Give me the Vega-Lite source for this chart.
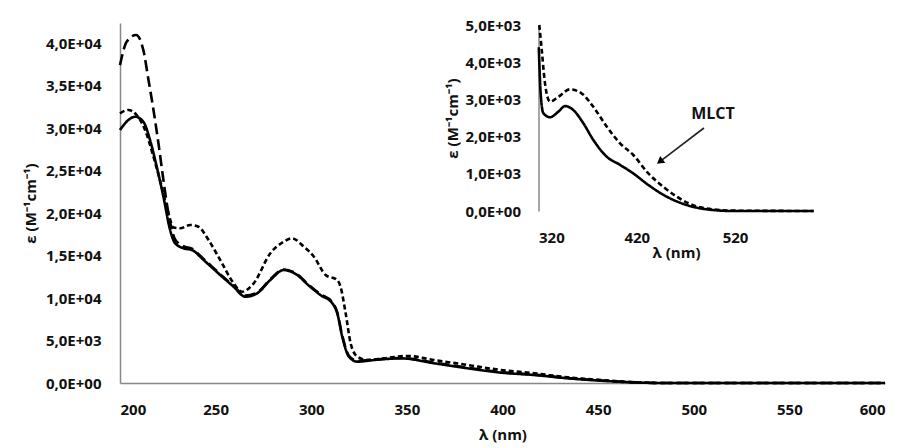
{
  "$schema": "https://vega.github.io/schema/vega-lite/v6.json",
  "width": 765,
  "height": 360,
  "autosize": "none",
  "padding": {"left": 120, "top": 23, "right": 15, "bottom": 65},
  "background": "white",
  "config": {
    "view": {"stroke": null},
    "font": "Open Sans",
    "axis": {
      "grid": false,
      "ticks": false,
      "domainColor": "#888888",
      "domainWidth": 1.5,
      "labelFont": "Open Sans",
      "labelFontWeight": "bold",
      "labelFontSize": 15,
      "labelColor": "#111111",
      "titleFont": "Open Sans",
      "titleFontWeight": "bold",
      "titleFontSize": 15,
      "titleColor": "#111111"
    }
  },
  "datasets": {
    "main": [
      {"s": "C", "nm": 200, "e": 29770}, {"s": "C", "nm": 204.4, "e": 30940}, {"s": "C", "nm": 207.9, "e": 31330}, {"s": "C", "nm": 212.2, "e": 30740}, {"s": "C", "nm": 215.7, "e": 28590}, {"s": "C", "nm": 219.2, "e": 25450}, {"s": "C", "nm": 222.7, "e": 21920}, {"s": "C", "nm": 226.2, "e": 18000}, {"s": "C", "nm": 228.8, "e": 16440}, {"s": "C", "nm": 233.2, "e": 15850}, {"s": "C", "nm": 237.6, "e": 15650}, {"s": "C", "nm": 243.7, "e": 14470}, {"s": "C", "nm": 252.4, "e": 12710}, {"s": "C", "nm": 259.4, "e": 11330}, {"s": "C", "nm": 265.5, "e": 10150}, {"s": "C", "nm": 271.7, "e": 10550}, {"s": "C", "nm": 278.6, "e": 12120}, {"s": "C", "nm": 285.6, "e": 13290}, {"s": "C", "nm": 292.6, "e": 12710}, {"s": "C", "nm": 298.5, "e": 11500}, {"s": "C", "nm": 304.8, "e": 10350}, {"s": "C", "nm": 311, "e": 9380}, {"s": "C", "nm": 313.6, "e": 8200}, {"s": "C", "nm": 316.2, "e": 5450}, {"s": "C", "nm": 319.7, "e": 3100}, {"s": "C", "nm": 324.1, "e": 2510}, {"s": "C", "nm": 332.8, "e": 2700}, {"s": "C", "nm": 346.8, "e": 2900}, {"s": "C", "nm": 364.3, "e": 2320}, {"s": "C", "nm": 381.8, "e": 1730}, {"s": "C", "nm": 399.2, "e": 1220}, {"s": "C", "nm": 416.7, "e": 940}, {"s": "C", "nm": 434.2, "e": 550}, {"s": "C", "nm": 451.6, "e": 270}, {"s": "C", "nm": 470, "e": 60}, {"s": "C", "nm": 485, "e": 0}, {"s": "C", "nm": 600, "e": 0},
      {"s": "A", "nm": 200, "e": 37400}, {"s": "A", "nm": 203.5, "e": 40150}, {"s": "A", "nm": 208.4, "e": 40940}, {"s": "A", "nm": 212.2, "e": 39180}, {"s": "A", "nm": 214.9, "e": 35650}, {"s": "A", "nm": 217.5, "e": 32120}, {"s": "A", "nm": 220.1, "e": 28200}, {"s": "A", "nm": 222.7, "e": 23880}, {"s": "A", "nm": 225.3, "e": 20000}, {"s": "A", "nm": 228.8, "e": 16900}, {"s": "A", "nm": 233.2, "e": 16100}, {"s": "A", "nm": 237.6, "e": 15800}, {"s": "A", "nm": 243.7, "e": 14600}, {"s": "A", "nm": 252.4, "e": 12800}, {"s": "A", "nm": 259.4, "e": 11400}, {"s": "A", "nm": 265.5, "e": 10300}, {"s": "A", "nm": 271.7, "e": 10650}, {"s": "A", "nm": 278.6, "e": 12200}, {"s": "A", "nm": 285.6, "e": 13350}, {"s": "A", "nm": 292.6, "e": 12800}, {"s": "A", "nm": 298.5, "e": 11600}, {"s": "A", "nm": 304.8, "e": 10450}, {"s": "A", "nm": 311, "e": 9500}, {"s": "A", "nm": 313.6, "e": 8300}, {"s": "A", "nm": 316.2, "e": 5600}, {"s": "A", "nm": 319.7, "e": 3200}, {"s": "A", "nm": 324.1, "e": 2600}, {"s": "A", "nm": 332.8, "e": 2750}, {"s": "A", "nm": 346.8, "e": 2950}, {"s": "A", "nm": 364.3, "e": 2400}, {"s": "A", "nm": 381.8, "e": 1800}, {"s": "A", "nm": 399.2, "e": 1280}, {"s": "A", "nm": 416.7, "e": 980}, {"s": "A", "nm": 434.2, "e": 580}, {"s": "A", "nm": 451.6, "e": 290}, {"s": "A", "nm": 470, "e": 70}, {"s": "A", "nm": 485, "e": 0}, {"s": "A", "nm": 600, "e": 0},
      {"s": "B", "nm": 200, "e": 31730}, {"s": "B", "nm": 204.4, "e": 32120}, {"s": "B", "nm": 208.7, "e": 31530}, {"s": "B", "nm": 213.1, "e": 29770}, {"s": "B", "nm": 217.5, "e": 26620}, {"s": "B", "nm": 221.8, "e": 23100}, {"s": "B", "nm": 225.3, "e": 20000}, {"s": "B", "nm": 227.9, "e": 18300}, {"s": "B", "nm": 231.5, "e": 18200}, {"s": "B", "nm": 236.7, "e": 18590}, {"s": "B", "nm": 241, "e": 18390}, {"s": "B", "nm": 246.3, "e": 16820}, {"s": "B", "nm": 252.4, "e": 14470}, {"s": "B", "nm": 259.4, "e": 11730}, {"s": "B", "nm": 263.8, "e": 10740}, {"s": "B", "nm": 269.9, "e": 11730}, {"s": "B", "nm": 278.6, "e": 15260}, {"s": "B", "nm": 285.6, "e": 16620}, {"s": "B", "nm": 290, "e": 17020}, {"s": "B", "nm": 296.1, "e": 16040}, {"s": "B", "nm": 301.4, "e": 14860}, {"s": "B", "nm": 307.5, "e": 12710}, {"s": "B", "nm": 313.6, "e": 12120}, {"s": "B", "nm": 315.3, "e": 11330}, {"s": "B", "nm": 318, "e": 8200}, {"s": "B", "nm": 320.6, "e": 4670}, {"s": "B", "nm": 324.1, "e": 3100}, {"s": "B", "nm": 329.3, "e": 2700}, {"s": "B", "nm": 338, "e": 2900}, {"s": "B", "nm": 350.3, "e": 3180}, {"s": "B", "nm": 364.3, "e": 2700}, {"s": "B", "nm": 381.8, "e": 2120}, {"s": "B", "nm": 399.2, "e": 1530}, {"s": "B", "nm": 416.7, "e": 1140}, {"s": "B", "nm": 434.2, "e": 670}, {"s": "B", "nm": 451.6, "e": 350}, {"s": "B", "nm": 470, "e": 80}, {"s": "B", "nm": 485, "e": 0}, {"s": "B", "nm": 600, "e": 0}
    ],
    "inset": [
      {"s": "C", "nm": 320.3, "e": 4400}, {"s": "C", "nm": 322.2, "e": 3160}, {"s": "C", "nm": 324.9, "e": 2630}, {"s": "C", "nm": 331.7, "e": 2520}, {"s": "C", "nm": 340.2, "e": 2670}, {"s": "C", "nm": 347, "e": 2820}, {"s": "C", "nm": 355.4, "e": 2715}, {"s": "C", "nm": 365.6, "e": 2360}, {"s": "C", "nm": 375.8, "e": 1910}, {"s": "C", "nm": 389.4, "e": 1460}, {"s": "C", "nm": 403, "e": 1240}, {"s": "C", "nm": 416.5, "e": 1010}, {"s": "C", "nm": 431.8, "e": 700}, {"s": "C", "nm": 450.5, "e": 385}, {"s": "C", "nm": 467.4, "e": 190}, {"s": "C", "nm": 491.2, "e": 45}, {"s": "C", "nm": 518, "e": 0}, {"s": "C", "nm": 600, "e": 0},
      {"s": "B", "nm": 320.8, "e": 5000}, {"s": "B", "nm": 323.3, "e": 4330}, {"s": "B", "nm": 326.6, "e": 3430}, {"s": "B", "nm": 331.7, "e": 2940}, {"s": "B", "nm": 340.2, "e": 3070}, {"s": "B", "nm": 352.1, "e": 3270}, {"s": "B", "nm": 364, "e": 3160}, {"s": "B", "nm": 375.8, "e": 2800}, {"s": "B", "nm": 389.4, "e": 2270}, {"s": "B", "nm": 403, "e": 1820}, {"s": "B", "nm": 416.5, "e": 1505}, {"s": "B", "nm": 431.8, "e": 1010}, {"s": "B", "nm": 447, "e": 650}, {"s": "B", "nm": 460.7, "e": 385}, {"s": "B", "nm": 484.4, "e": 100}, {"s": "B", "nm": 518, "e": 10}, {"s": "B", "nm": 600, "e": 0}
    ],
    "label": [{"nm": 497.6, "e": 2607, "text": "MLCT"}],
    "arrow": [{"nm": 488.4, "e": 2231, "nm2": 443.5, "e2": 1330}],
    "head": [{"nm": 443.5, "e": 1330}]
  },
  "layer": [
    {
      "data": {"name": "main"},
      "mark": {"type": "line", "interpolate": "monotone", "color": "black"},
      "encoding": {
        "x": {
          "field": "nm", "type": "quantitative",
          "scale": {"domain": [200, 600], "nice": false, "zero": false},
          "axis": {"orient": "bottom", "values": [200, 250, 300, 350, 400, 450, 500, 550, 600], "labelPadding": 19, "title": "λ (nm)", "titlePadding": 10}
        },
        "y": {
          "field": "e", "type": "quantitative",
          "scale": {"domain": [0, 42353], "nice": false},
          "axis": {"orient": "left", "values": [0, 5000, 10000, 15000, 20000, 25000, 30000, 35000, 40000], "labelPadding": 19, "labelExpr": "replace(replace(format(datum.value, '.1e'), '.', ','), 'e+', 'E+0')", "title": "ε (M⁻¹cm⁻¹)", "titlePadding": 7}
        },
        "detail": {"field": "s"},
        "strokeDash": {"field": "s", "type": "nominal", "scale": {"domain": ["A", "B", "C"], "range": [[11, 5], [5, 3], [1, 0]]}, "legend": null},
        "strokeWidth": {"field": "s", "type": "nominal", "scale": {"domain": ["A", "B", "C"], "range": [2.6, 2.6, 3.4]}, "legend": null}
      }
    },
    {
      "layer": [
        {
          "data": {"name": "inset"},
          "mark": {"type": "line", "interpolate": "monotone", "color": "black"},
          "encoding": {
            "x": {
              "field": "nm", "type": "quantitative",
              "scale": {"domain": [320, 600], "range": [418.5, 693.6], "nice": false, "zero": false},
              "axis": {"orient": "bottom", "offset": -172, "domain": false, "values": [320, 420, 520], "labelPadding": 19, "title": "λ (nm)", "titlePadding": 0}
            },
            "y": {
              "field": "e", "type": "quantitative",
              "scale": {"domain": [0, 5000], "range": [188, 2], "nice": false},
              "axis": {"orient": "left", "offset": -418.5, "values": [0, 1000, 2000, 3000, 4000, 5000], "labelPadding": 18, "labelExpr": "replace(replace(format(datum.value, '.1e'), '.', ','), 'e+', 'E+0')", "title": "ε (M⁻¹cm⁻¹)", "titlePadding": 4}
            },
            "detail": {"field": "s"},
            "strokeDash": {"field": "s", "type": "nominal", "legend": null},
            "strokeWidth": {"field": "s", "type": "nominal", "legend": null}
          }
        },
        {
          "data": {"name": "arrow"},
          "mark": {"type": "rule", "color": "#222222", "strokeWidth": 1.6},
          "encoding": {
            "x": {"field": "nm", "type": "quantitative"},
            "y": {"field": "e", "type": "quantitative"},
            "x2": {"field": "nm2"},
            "y2": {"field": "e2"}
          }
        },
        {
          "data": {"name": "head"},
          "mark": {"type": "point", "shape": "triangle-up", "filled": true, "color": "black", "size": 70, "opacity": 1, "angle": 233},
          "encoding": {
            "x": {"field": "nm", "type": "quantitative"},
            "y": {"field": "e", "type": "quantitative"}
          }
        },
        {
          "data": {"name": "label"},
          "mark": {"type": "text", "font": "Open Sans", "fontWeight": "bold", "fontSize": 16, "color": "#111111"},
          "encoding": {
            "x": {"field": "nm", "type": "quantitative"},
            "y": {"field": "e", "type": "quantitative"},
            "text": {"field": "text"}
          }
        }
      ]
    }
  ],
  "resolve": {"scale": {"x": "independent", "y": "independent"}}
}
